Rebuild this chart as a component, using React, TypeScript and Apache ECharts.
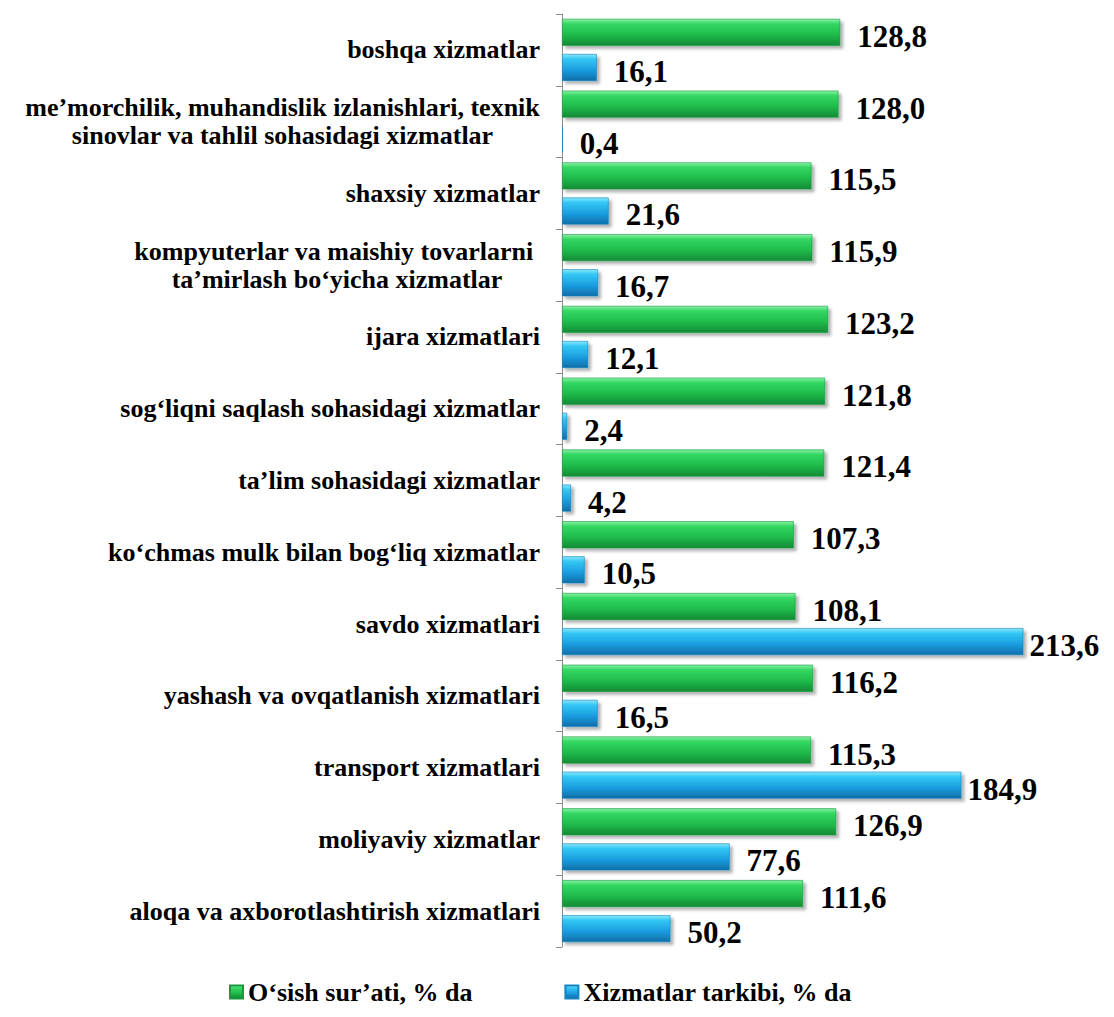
import React, { useEffect, useRef } from "react";
import * as echarts from "echarts";

const categories = [
  "boshqa xizmatlar",
  "me’morchilik, muhandislik izlanishlari, texnik\nsinovlar va tahlil sohasidagi xizmatlar",
  "shaxsiy xizmatlar",
  "kompyuterlar va maishiy tovarlarni \nta’mirlash bo‘yicha xizmatlar",
  "ijara xizmatlari",
  "sog‘liqni saqlash sohasidagi xizmatlar",
  "ta’lim sohasidagi xizmatlar",
  "ko‘chmas mulk bilan bog‘liq xizmatlar",
  "savdo xizmatlari",
  "yashash va ovqatlanish xizmatlari",
  "transport xizmatlari",
  "moliyaviy xizmatlar",
  "aloqa va axborotlashtirish xizmatlari",
];

const growthValues = [128.8, 128.0, 115.5, 115.9, 123.2, 121.8, 121.4, 107.3, 108.1, 116.2, 115.3, 126.9, 111.6];
const shareValues = [16.1, 0.4, 21.6, 16.7, 12.1, 2.4, 4.2, 10.5, 213.6, 16.5, 184.9, 77.6, 50.2];

const seriesNames = ["O‘sish sur’ati, % da", "Xizmatlar tarkibi, % da"];

const FONT = "Liberation Serif";
const CAT_SIZE = 26;

function measure(text: string, size: number) {
  const c = document.createElement("canvas").getContext("2d");
  if (!c) return text.length * size * 0.5;
  c.font = `bold ${size}px "Liberation Serif"`;
  return c.measureText(text).width;
}

const fmt = (v: number) => v.toFixed(1).replace(".", ",");

export default function App() {
  const ref = useRef<HTMLDivElement>(null);
  useEffect(() => {
    if (!ref.current) return;
    const chart = echarts.init(ref.current, null, { renderer: "svg" });

    const baseText = {
      fontSize: CAT_SIZE,
      fontWeight: "bold",
      fontFamily: FONT,
      color: "#000",
      lineHeight: 28,
    };
    const rich: Record<string, any> = { s: { ...baseText } };
    const keyFor: Record<string, string> = {};
    categories.forEach((c, i) => {
      if (c.includes("\n")) {
        const lines = c.split("\n");
        const w = Math.max(...lines.map((l) => measure(l, CAT_SIZE)));
        const k = "m" + i;
        keyFor[c] = k;
        rich[k] = { ...baseText, width: Math.ceil(w), align: "center" };
      }
    });

    const green = new echarts.graphic.LinearGradient(0, 0, 0, 1, [
      { offset: 0, color: "#8af0a6" },
      { offset: 0.18, color: "#33d862" },
      { offset: 0.6, color: "#1fbb4a" },
      { offset: 1, color: "#128a36" },
    ]);
    const blue = new echarts.graphic.LinearGradient(0, 0, 0, 1, [
      { offset: 0, color: "#8ae8fd" },
      { offset: 0.18, color: "#34c7f4" },
      { offset: 0.6, color: "#1a9de0" },
      { offset: 1, color: "#0f6ea8" },
    ]);

    const labelBase = {
      show: true,
      position: "right",
      distance: 17,
      offset: [0, 4],
      fontSize: 31,
      fontWeight: "bold",
      fontFamily: FONT,
      color: "#000",
      formatter: (p: any) => fmt(p.value),
    };

    chart.setOption({
      animation: false,
      backgroundColor: "#fff",
      textStyle: { fontFamily: FONT },
      grid: { left: 562, top: 14, width: 540, height: 933 },
      xAxis: {
        type: "value",
        min: 0,
        max: 250,
        show: false,
      },
      yAxis: {
        type: "category",
        inverse: true,
        data: categories,
        axisLine: { show: true, lineStyle: { color: "#8c8c8c", width: 1 } },
        axisTick: { show: true, length: 6, lineStyle: { color: "#8c8c8c" } },
        splitLine: { show: false },
        axisLabel: {
          margin: 22,
          ...baseText,
          rich,
          formatter: (v: string) => {
            const k = keyFor[v];
            if (!k) return `{s|${v}}`;
            return v
              .split("\n")
              .map((l) => `{${k}|${l}}`)
              .join("\n");
          },
        },
      },
      legend: {
        left: 224,
        top: 974,
        itemGap: 92,
        itemWidth: 13,
        itemHeight: 13,
        icon: "rect",
        textStyle: {
          fontSize: 26,
          fontWeight: "bold",
          fontFamily: FONT,
          color: "#000",
        },
        data: seriesNames,
      },
      series: [
        {
          name: seriesNames[0],
          type: "bar",
          barWidth: 27,
          barGap: "30%",
          data: growthValues,
          itemStyle: {
            color: green,
            borderColor: "#149a3c",
            borderWidth: 0.6,
            shadowColor: "rgba(0,0,0,0.3)",
            shadowBlur: 3,
            shadowOffsetX: 3,
            shadowOffsetY: 3,
          },
          label: labelBase,
        },
        {
          name: seriesNames[1],
          type: "bar",
          barWidth: 27,
          barGap: "30%",
          data: shareValues.map((v) =>
            v > 150 ? { value: v, label: { distance: 6 } } : v
          ),
          itemStyle: {
            color: blue,
            borderColor: "#1483c0",
            borderWidth: 0.6,
            shadowColor: "rgba(0,0,0,0.3)",
            shadowBlur: 3,
            shadowOffsetX: 3,
            shadowOffsetY: 3,
          },
          label: labelBase,
        },
      ],
    });
    return () => chart.dispose();
  }, []);

  return (
    <div
      ref={ref}
      style={{ position: "fixed", left: 0, top: 0, width: 1114, height: 1017, background: "#fff" }}
    />
  );
}
